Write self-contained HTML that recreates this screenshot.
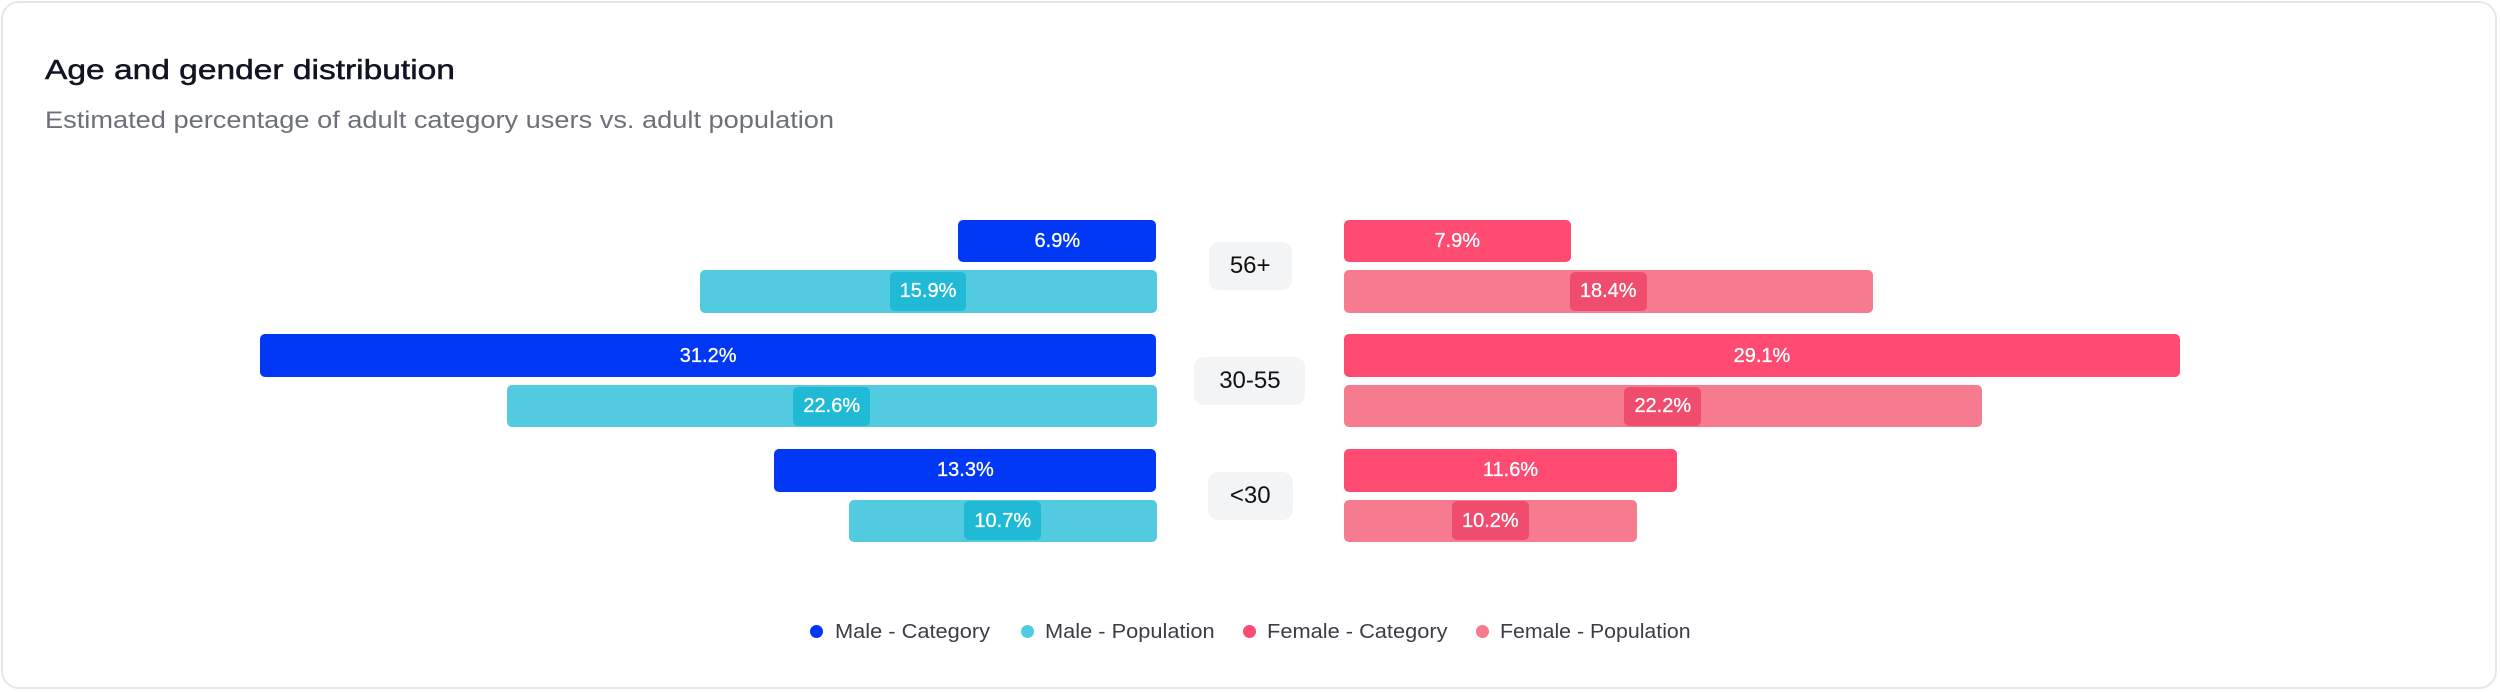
<!DOCTYPE html>
<html>
<head>
<meta charset="utf-8">
<style>
  html, body { margin:0; padding:0; background:#ffffff; }
  body { width:2500px; height:692px; position:relative; overflow:hidden; font-family:"Liberation Sans", "DejaVu Sans", sans-serif; }
  .card { position:absolute; left:1px; top:1px; width:2496px; height:688px; box-sizing:border-box; border:2px solid #e7e7e7; border-radius:18px; background:#fff; }
  .t { position:absolute; white-space:nowrap; line-height:1; transform-origin:0 0; }
  .title { left:45px; top:55.6px; font-size:28px; color:#111422; transform:scaleX(1.197); -webkit-text-stroke:0.5px #111422; }
  .sub { left:45px; top:109px; font-size:24px; color:#6d707a; transform:scaleX(1.133); }
  .bar { position:absolute; height:42.5px; border-radius:5px; display:flex; align-items:center; justify-content:center; color:#fff; font-size:20px; line-height:1; -webkit-text-stroke:0.3px #fff; }
  .mc { background:#0038f5; }
  .mp { background:#52cbe0; }
  .fc { background:#ff4a72; }
  .fp { background:#f77b8f; }
  .pill { height:39px; border-radius:5px; padding:0 10px; display:flex; align-items:center; justify-content:center; color:#fff; }
  .mp .pill { background:#20bad6; }
  .fp .pill { background:#ef4c6e; }
  .age { position:absolute; height:48px; border-radius:10px; background:#f3f4f6; display:flex; align-items:center; justify-content:center; font-size:24px; color:#111; line-height:1; }
  .dot { position:absolute; width:13px; height:13px; border-radius:50%; top:624.5px; }
  .leg { top:622.4px; font-size:20px; color:#3a3d45; transform:scaleX(1.09); }
</style>
</head>
<body>
<div class="card"></div>
<div class="t title">Age and gender distribution</div>
<div class="t sub">Estimated percentage of adult category users vs. adult population</div>

<!-- 56+ -->
<div class="bar mc" style="left:958.2px; width:198.3px; top:219.5px;">6.9%</div>
<div class="bar mp" style="left:699.5px; width:457px; top:270px;"><div class="pill">15.9%</div></div>
<div class="bar fc" style="left:1343.8px; width:227px; top:219.5px;">7.9%</div>
<div class="bar fp" style="left:1343.8px; width:528.8px; top:270px;"><div class="pill">18.4%</div></div>
<div class="age" style="left:1208.7px; width:83px; top:242px;">56+</div>

<!-- 30-55 -->
<div class="bar mc" style="left:259.8px; width:896.7px; top:334.3px;">31.2%</div>
<div class="bar mp" style="left:507px; width:649.5px; top:384.8px;"><div class="pill">22.6%</div></div>
<div class="bar fc" style="left:1343.8px; width:836.3px; top:334.3px;">29.1%</div>
<div class="bar fp" style="left:1343.8px; width:638px; top:384.8px;"><div class="pill">22.2%</div></div>
<div class="age" style="left:1194.4px; width:111px; top:356.8px;">30-55</div>

<!-- <30 -->
<div class="bar mc" style="left:774.3px; width:382.2px; top:449.2px;">13.3%</div>
<div class="bar mp" style="left:849px; width:307.5px; top:499.5px;"><div class="pill">10.7%</div></div>
<div class="bar fc" style="left:1343.8px; width:333.4px; top:449.2px;">11.6%</div>
<div class="bar fp" style="left:1343.8px; width:293.1px; top:499.5px;"><div class="pill">10.2%</div></div>
<div class="age" style="left:1207.7px; width:85px; top:472.2px;">&lt;30</div>

<!-- legend -->
<div class="dot" style="left:809.5px; background:#0038f5;"></div>
<div class="t leg" style="left:835px;">Male - Category</div>
<div class="dot" style="left:1020.5px; background:#52cbe0;"></div>
<div class="t leg" style="left:1044.5px;">Male - Population</div>
<div class="dot" style="left:1242.5px; background:#ff4a72;"></div>
<div class="t leg" style="left:1266.8px;">Female - Category</div>
<div class="dot" style="left:1475.5px; background:#f77b8f;"></div>
<div class="t leg" style="left:1499.5px; transform:scaleX(1.065);">Female - Population</div>
</body>
</html>
